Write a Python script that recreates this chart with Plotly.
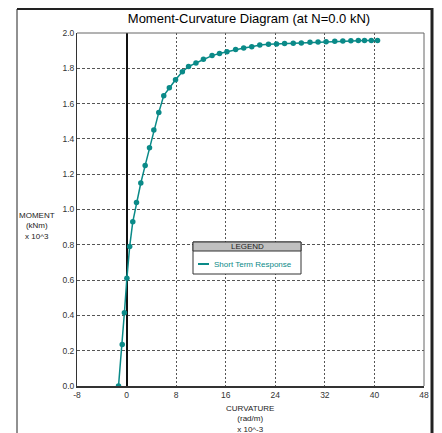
import plotly.graph_objects as go

curvature = [-1.3, -0.7, -0.35, 0.05, 0.5, 1.0, 1.6, 2.3, 3.0, 3.7, 4.4, 5.2, 6.0, 6.9, 7.9,
             9.0, 10.0, 11.2, 12.4, 13.8, 15.0, 16.2, 17.6, 18.9, 20.2, 21.5, 22.9, 24.2,
             25.5, 26.9, 28.2, 29.6, 30.9, 32.2, 33.6, 34.9, 36.2, 37.4, 38.4, 39.5, 40.5]
moment = [0.0, 0.235, 0.415, 0.61, 0.79, 0.93, 1.04, 1.15, 1.25, 1.35, 1.45, 1.55, 1.645,
          1.69, 1.735, 1.78, 1.81, 1.83, 1.851, 1.872, 1.884, 1.894, 1.907, 1.915, 1.922,
          1.932, 1.936, 1.938, 1.941, 1.942, 1.944, 1.947, 1.949, 1.951, 1.953, 1.955,
          1.956, 1.957, 1.958, 1.958, 1.958]
series_name = "Short Term Response"
x_ticks = [-8, 0, 8, 16, 24, 32, 40, 48]
y_ticks = [0.0, 0.2, 0.4, 0.6, 0.8, 1.0, 1.2, 1.4, 1.6, 1.8, 2.0]

TEAL = "#0a8a88"
FONT = "Liberation Sans"

# page body has an 8px margin: work in window pixels, convert to figure pixels
OFF = 8
W, H = 442 - OFF, 433 - OFF
L, R, T, B = 77 - OFF, 424 - OFF, 33 - OFF, 386 - OFF

def px(x):
    return (x - OFF - L) / (R - L)

def py(y):
    return (B - (y - OFF)) / (B - T)

fig = go.Figure()
fig.add_trace(go.Scatter(
    x=curvature, y=moment, mode="lines+markers", name=series_name,
    line=dict(color=TEAL, width=1.5),
    marker=dict(color=TEAL, size=5.5, symbol="circle"),
    showlegend=False,
))

fig.update_layout(
    width=W, height=H,
    margin=dict(l=L, r=W - R, t=T, b=H - B),
    paper_bgcolor="white", plot_bgcolor="white",
    font=dict(family=FONT, size=8, color="#333333"),
    title=dict(text="Moment-Curvature Diagram (at N=0.0 kN)",
               xref="paper", x=px(249), xanchor="center",
               yref="container", y=1 - (18 - OFF) / H, yanchor="middle",
               font=dict(family=FONT, size=13, color="black")),
    xaxis=dict(range=[-8, 48], tickvals=x_ticks, ticktext=[str(v) for v in x_ticks],
               showgrid=True, gridcolor="#555555", griddash="2px,2px", gridwidth=1,
               zeroline=True, zerolinecolor="#111111", zerolinewidth=2,
               showline=True, linecolor="#333333", linewidth=2, mirror=False,
               ticks="", tickfont=dict(size=8.5, color="#333333")),
    yaxis=dict(range=[0, 2.0], tickvals=y_ticks, ticktext=[f"{v:.1f}" for v in y_ticks],
               showgrid=True, gridcolor="#555555", griddash="3px,2px", gridwidth=1,
               zeroline=False,
               showline=True, linecolor="#333333", linewidth=1,
               ticks="", tickfont=dict(size=8.5, color="#333333")),
)

shapes = []
# top and right plot border
shapes.append(dict(type="line", xref="paper", yref="paper", x0=0, x1=1, y0=1, y1=1,
                   line=dict(color="#666666", width=1)))
shapes.append(dict(type="line", xref="paper", yref="paper", x0=1, x1=1, y0=0, y1=1,
                   line=dict(color="#666666", width=1)))
# outer frame (top edge placed at the top of the figure area)
shapes.append(dict(type="line", xref="paper", yref="paper", x0=px(17), x1=px(17),
                   y0=py(9), y1=py(440), line=dict(color="#222222", width=1)))
shapes.append(dict(type="line", xref="paper", yref="paper", x0=px(17), x1=px(433),
                   y0=py(9), y1=py(9), line=dict(color="#222222", width=2)))
shapes.append(dict(type="line", xref="paper", yref="paper", x0=px(432), x1=px(432),
                   y0=py(8), y1=py(440), line=dict(color="#222222", width=3)))
# legend box
shapes.append(dict(type="rect", xref="paper", yref="paper", x0=px(193), x1=px(301),
                   y0=py(274), y1=py(242), fillcolor="white",
                   line=dict(color="#333333", width=1), layer="above"))
shapes.append(dict(type="rect", xref="paper", yref="paper", x0=px(193), x1=px(301),
                   y0=py(251), y1=py(242), fillcolor="#c0c0c0",
                   line=dict(color="#333333", width=1), layer="above"))
shapes.append(dict(type="line", xref="paper", yref="paper", x0=px(198), x1=px(209),
                   y0=py(264), y1=py(264), line=dict(color=TEAL, width=2), layer="above"))
fig.update_layout(shapes=shapes)

annotations = [
    dict(text="LEGEND", x=px(247), y=py(246.5), xref="paper", yref="paper",
         showarrow=False, xanchor="center", yanchor="middle",
         font=dict(family=FONT, size=8, color="#222222")),
    dict(text=series_name, x=px(212), y=py(264), xref="paper", yref="paper",
         showarrow=False, xanchor="left", yanchor="middle",
         font=dict(family=FONT, size=8, color=TEAL)),
    dict(text="MOMENT<br>(kNm)<br>x 10^3", x=px(37), y=py(226), xref="paper", yref="paper",
         showarrow=False, xanchor="center", yanchor="middle", align="center",
         font=dict(family=FONT, size=8, color="#222222")),
    dict(text="CURVATURE<br>(rad/m)<br>x 10^-3", x=px(250), y=py(419), xref="paper",
         yref="paper", showarrow=False, xanchor="center", yanchor="middle", align="center",
         font=dict(family=FONT, size=8, color="#222222")),
]
fig.update_layout(annotations=annotations)

fig.write_html("out.html")
